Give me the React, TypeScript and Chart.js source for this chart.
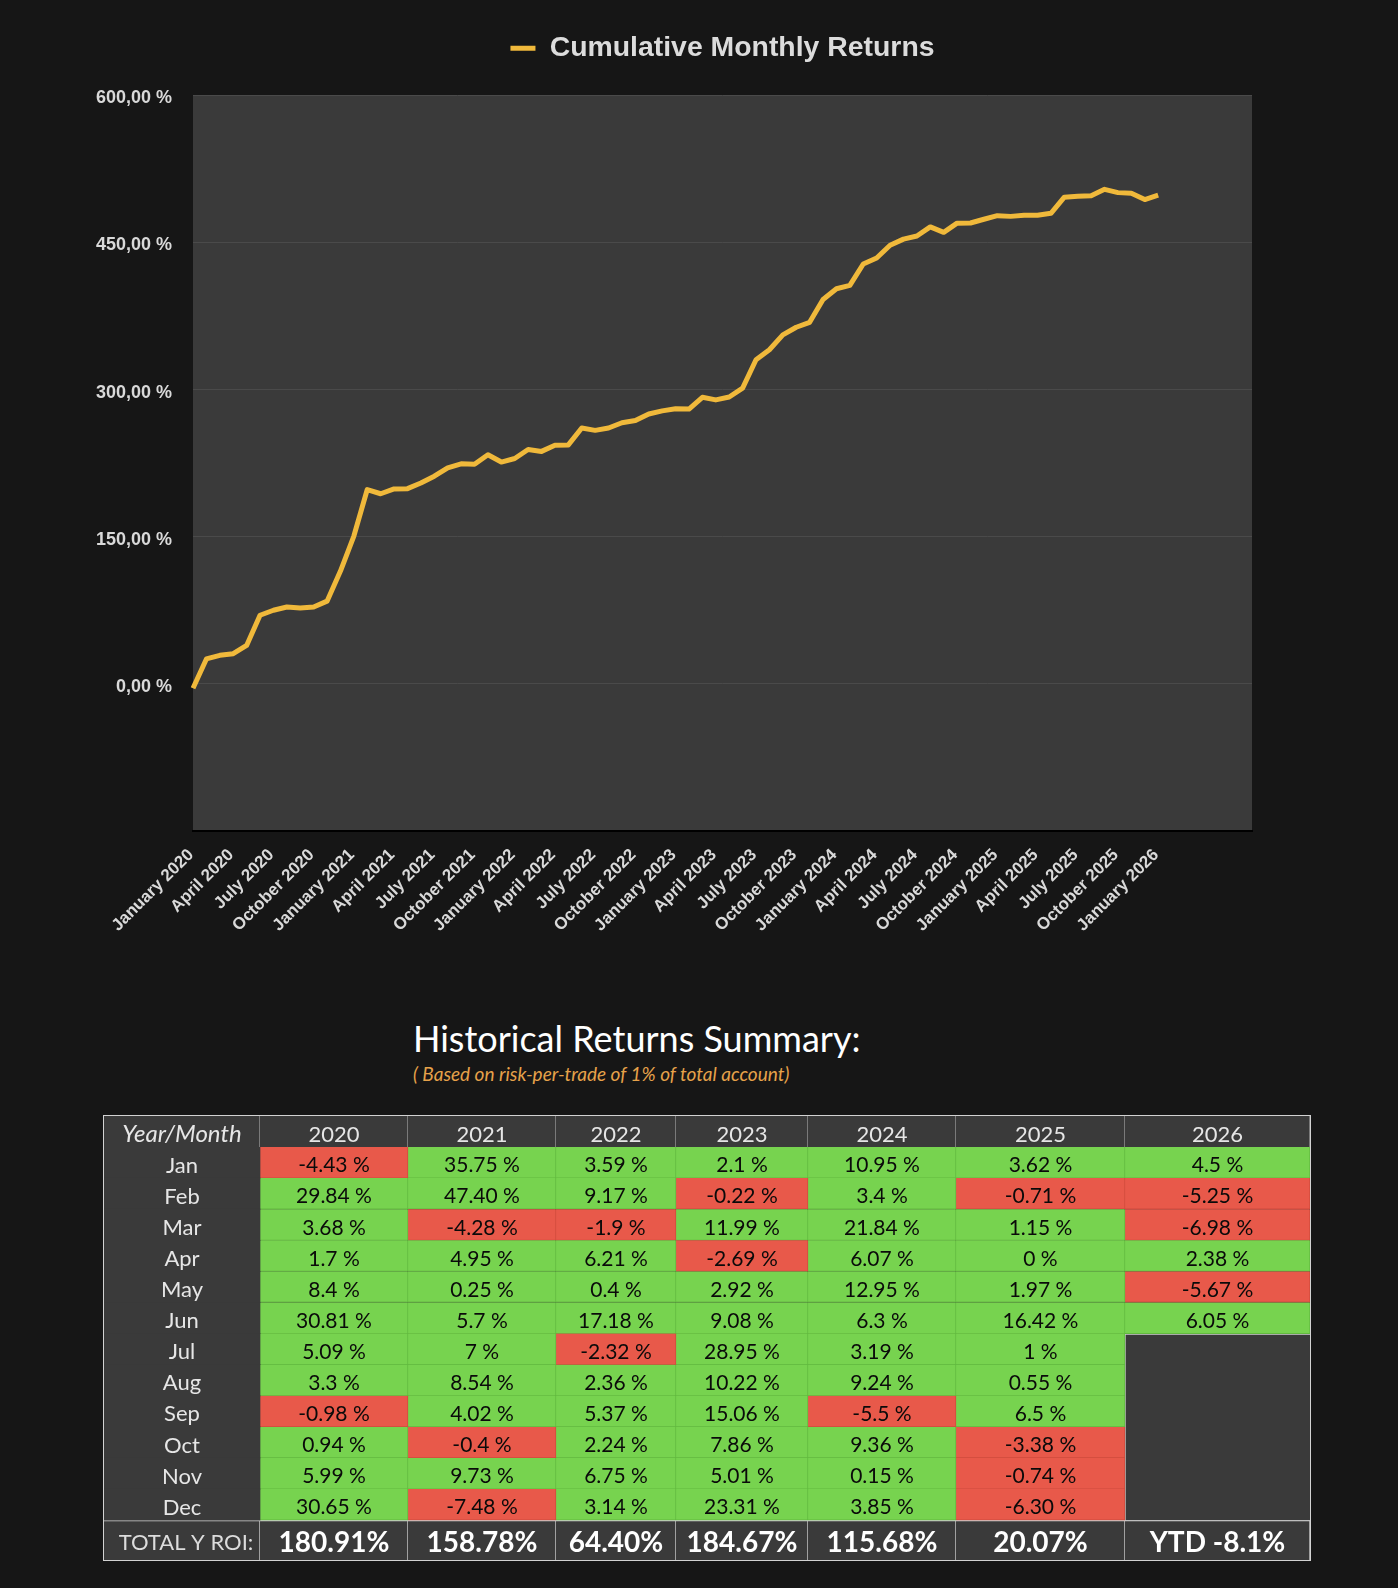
import React, { useEffect, useRef } from 'react';
import { Chart, registerables } from 'chart.js';

Chart.register(...registerables);

// ---------------- data: cumulative line ----------------
const MONTH_NAMES = ['January', 'February', 'March', 'April', 'May', 'June', 'July', 'August', 'September', 'October', 'November', 'December'];
const AXIS_YEARS = [2020, 2021, 2022, 2023, 2024, 2025, 2026];
const AXIS_MONTH_COUNT = 80; // axis runs Jan 2020 .. Aug 2026
const X_LABELS = AXIS_YEARS.flatMap((y) => MONTH_NAMES.map((m) => `${m} ${y}`)).slice(0, AXIS_MONTH_COUNT);

const CUMULATIVE_RETURNS = [
  -4.43, 25.41, 29.09, 30.79, 39.19, 70.0, 75.09, 78.39, 77.41, 78.35, 84.34, 114.99,
  150.74, 198.14, 193.86, 198.81, 199.06, 204.76, 211.76, 220.3, 224.32, 223.92, 233.65, 226.17,
  229.76, 238.93, 237.03, 243.24, 243.64, 260.82, 258.5, 260.86, 266.23, 268.47, 275.22, 278.36,
  280.46, 280.24, 292.23, 289.54, 292.46, 301.54, 330.49, 340.71, 355.77, 363.63, 368.64, 391.95,
  402.9, 406.3, 428.14, 434.21, 447.16, 453.46, 456.65, 465.89, 460.39, 469.75, 469.9, 473.75,
  477.37, 476.66, 477.81, 477.81, 479.78, 496.2, 497.2, 497.75, 504.25, 500.87, 500.13, 493.83,
  498.33,
];

const Y_TICKS = [-150, 0, 150, 300, 450, 600];
const Y_TICK_LABELS = ['', '0,00 %', '150,00 %', '300,00 %', '450,00 %', '600,00 %'];

// ---------------- data: returns table ----------------
const TABLE_YEARS = ['2020', '2021', '2022', '2023', '2024', '2025', '2026'];
const TABLE_MONTHS = ['Jan', 'Feb', 'Mar', 'Apr', 'May', 'Jun', 'Jul', 'Aug', 'Sep', 'Oct', 'Nov', 'Dec'];
const RETURNS_2020 = ['-4.43', '29.84', '3.68', '1.7', '8.4', '30.81', '5.09', '3.3', '-0.98', '0.94', '5.99', '30.65'];
const RETURNS_2021 = ['35.75', '47.40', '-4.28', '4.95', '0.25', '5.7', '7', '8.54', '4.02', '-0.4', '9.73', '-7.48'];
const RETURNS_2022 = ['3.59', '9.17', '-1.9', '6.21', '0.4', '17.18', '-2.32', '2.36', '5.37', '2.24', '6.75', '3.14'];
const RETURNS_2023 = ['2.1', '-0.22', '11.99', '-2.69', '2.92', '9.08', '28.95', '10.22', '15.06', '7.86', '5.01', '23.31'];
const RETURNS_2024 = ['10.95', '3.4', '21.84', '6.07', '12.95', '6.3', '3.19', '9.24', '-5.5', '9.36', '0.15', '3.85'];
const RETURNS_2025 = ['3.62', '-0.71', '1.15', '0', '1.97', '16.42', '1', '0.55', '6.5', '-3.38', '-0.74', '-6.30'];
const RETURNS_2026 = ['4.5', '-5.25', '-6.98', '2.38', '-5.67', '6.05'];
const RETURNS_BY_YEAR = [RETURNS_2020, RETURNS_2021, RETURNS_2022, RETURNS_2023, RETURNS_2024, RETURNS_2025, RETURNS_2026];
const YEAR_TOTALS = ['180.91%', '158.78%', '64.40%', '184.67%', '115.68%', '20.07%', 'YTD -8.1%'];
const HEADER_CORNER = 'Year/Month';
const TOTAL_LABEL = 'TOTAL Y ROI:';

// ---------------- styles / layout ----------------
const PAGE_BG = '#161616';
const PLOT_BG = '#3a3a3a';
const LINE_COLOR = '#f0b93b';
const AXIS_TEXT = '#d9d9d9';
const CHART_FONT = "'Liberation Sans', Arial, Helvetica, sans-serif";
const TABLE_FONT = "Lato, 'Open Sans', sans-serif";
const CELL_DARK = '#3a3a3a';
const GREEN = '#77d34f';
const GREEN_EDGE = '#62b93f';
const RED = '#e8594a';
const RED_EDGE = '#cf4b3d';
const LIGHT_LINE = '#d2d2d2';

const LINE_CANVAS_W = 1398;
const LINE_CANVAS_H = 960;
const PLOT_LEFT = 193;
const PLOT_RIGHT = 1252;
const PLOT_BOTTOM = 831;

const TABLE_LEFT = 104;
const TABLE_TOP = 1116;
const TABLE_W = 1206;
const TABLE_H = 444;
const COL_EDGES = [0, 156, 304, 452, 572, 704, 852, 1021, 1206];
const HEADER_H = 31;
const ROW_H = 31.1;
const TOTAL_TOP = HEADER_H + ROW_H * 12;
const TOTAL_H = TABLE_H - TOTAL_TOP;

const plotBackground = {
  id: 'plotBackground',
  beforeDraw(chart: any) {
    const { ctx, chartArea: a } = chart;
    ctx.save();
    ctx.fillStyle = PLOT_BG;
    ctx.fillRect(a.left, a.top, a.right - a.left, a.bottom - a.top);
    ctx.restore();
  },
};

const cellText = {
  id: 'cellText',
  afterDatasetsDraw(chart: any) {
    const ctx = chart.ctx;
    chart.data.datasets.forEach((ds: any, di: number) => {
      if (!ds.cellText) return;
      const meta = chart.getDatasetMeta(di);
      meta.data.forEach((el: any, i: number) => {
        const t = ds.cellText[i];
        if (!t) return;
        const p = el.getProps(['x', 'y', 'base'], true);
        const dx = ds.cellShiftX ? ds.cellShiftX[i] || 0 : 0;
        ctx.save();
        ctx.font = Array.isArray(ds.cellFont) ? ds.cellFont[i] : ds.cellFont;
        ctx.fillStyle = Array.isArray(ds.cellColor) ? ds.cellColor[i] : ds.cellColor;
        ctx.textAlign = 'center';
        ctx.textBaseline = 'middle';
        ctx.fillText(t, (p.x + p.base) / 2 + dx, p.y + 3);
        ctx.restore();
      });
    });
  },
};

const colSpan = (c: number) => [COL_EDGES[c], COL_EDGES[c + 1]];
const rowCenter = (r: number) => HEADER_H + ROW_H * r + ROW_H / 2;

function buildTableDatasets() {
  const sets: any[] = [];
  const headerLabels = [HEADER_CORNER, ...TABLE_YEARS];
  sets.push({
    data: headerLabels.map((_, c) => ({ x: colSpan(c), y: HEADER_H / 2 })),
    barThickness: HEADER_H,
    backgroundColor: CELL_DARK,
    borderColor: '#9a9a9a',
    borderWidth: { top: 0, left: 0, bottom: 0, right: 1 },
    cellText: headerLabels,
    cellFont: headerLabels.map((_, c) => (c === 0 ? `italic 24px ${TABLE_FONT}` : `22px ${TABLE_FONT}`)),
    cellColor: '#e6e6e6',
  });
  sets.push({
    data: TABLE_MONTHS.map((_, r) => ({ x: colSpan(0), y: rowCenter(r) })),
    barThickness: ROW_H,
    backgroundColor: CELL_DARK,
    borderWidth: 0,
    cellText: TABLE_MONTHS,
    cellFont: `22px ${TABLE_FONT}`,
    cellColor: '#e6e6e6',
  });
  RETURNS_BY_YEAR.forEach((vals, yi) => {
    sets.push({
      data: vals.map((_, r) => ({ x: colSpan(yi + 1), y: rowCenter(r) })),
      barThickness: ROW_H,
      backgroundColor: vals.map((v) => (Number(v) < 0 ? RED : GREEN)),
      borderColor: vals.map((v) => (Number(v) < 0 ? RED_EDGE : GREEN_EDGE)),
      borderWidth: { top: 0, left: 0, bottom: 1, right: 1 },
      cellText: vals.map((v) => `${v} %`),
      cellFont: `21px ${TABLE_FONT}`,
      cellColor: '#0a0a0a',
    });
  });
  // empty area under the last (partial) year
  const lastCol = TABLE_YEARS.length;
  const filled = RETURNS_2026.length;
  const emptyTop = HEADER_H + ROW_H * filled;
  sets.push({
    data: [{ x: colSpan(lastCol), y: (emptyTop + TOTAL_TOP) / 2 }],
    barThickness: TOTAL_TOP - emptyTop,
    backgroundColor: CELL_DARK,
    borderColor: LIGHT_LINE,
    borderWidth: { top: 1.5, left: 1, bottom: 0, right: 0 },
  });
  const totalLabels = [TOTAL_LABEL, ...YEAR_TOTALS];
  sets.push({
    data: totalLabels.map((_, c) => ({ x: colSpan(c), y: TOTAL_TOP + TOTAL_H / 2 })),
    barThickness: TOTAL_H,
    backgroundColor: CELL_DARK,
    borderColor: LIGHT_LINE,
    borderWidth: { top: 1.5, left: 0, bottom: 0, right: 1 },
    cellText: totalLabels,
    cellShiftX: totalLabels.map((_, c) => (c === 0 ? 4 : 0)),
    cellFont: totalLabels.map((_, c) => (c === 0 ? `22px ${TABLE_FONT}` : `bold 28px ${TABLE_FONT}`)),
    cellColor: totalLabels.map((_, c) => (c === 0 ? '#dcdcdc' : '#ffffff')),
  });
  return sets;
}

export default function App() {
  const lineRef = useRef<HTMLCanvasElement>(null);
  const tableRef = useRef<HTMLCanvasElement>(null);

  useEffect(() => {
    document.body.style.margin = '0';
    document.body.style.background = PAGE_BG;

    const lineChart = new Chart(lineRef.current as HTMLCanvasElement, {
      type: 'line',
      data: {
        labels: X_LABELS,
        datasets: [
          {
            label: 'Cumulative Monthly Returns',
            data: CUMULATIVE_RETURNS,
            borderColor: LINE_COLOR,
            backgroundColor: LINE_COLOR,
            borderWidth: 5,
            pointRadius: 0,
            pointHoverRadius: 0,
            tension: 0,
            borderJoinStyle: 'round',
            borderCapStyle: 'butt',
            fill: false,
          },
        ],
      },
      options: {
        responsive: false,
        animation: false,
        devicePixelRatio: 1,
        events: [],
        layout: { padding: { top: 25, right: LINE_CANVAS_W - PLOT_RIGHT, left: 0, bottom: 0 } },
        plugins: {
          legend: {
            position: 'top',
            fullSize: false,
            labels: {
              color: '#dcdcdc',
              font: { family: CHART_FONT, size: 28.4, weight: 'bold' },
              usePointStyle: true,
              pointStyle: 'line',
              pointStyleWidth: 25,
              padding: 9,
            },
          },
          title: {
            display: true,
            text: '',
            position: 'top',
            fullSize: false,
            weight: 0,
            padding: 0,
            font: { size: 23, lineHeight: 1 },
          },
          tooltip: { enabled: false },
        },
        scales: {
          x: {
            grid: { display: false, drawTicks: false },
            border: { display: true, color: '#000000', width: 2 },
            ticks: {
              autoSkip: false,
              maxRotation: 45,
              minRotation: 45,
              padding: 14,
              labelOffset: -2,
              color: AXIS_TEXT,
              font: { family: CHART_FONT, size: 17, weight: 'bold' },
              callback: (_v: any, i: number) => (i % 3 === 0 && i < CUMULATIVE_RETURNS.length ? X_LABELS[i] : ''),
            },
            afterFit: (s: any) => {
              s.height = LINE_CANVAS_H - PLOT_BOTTOM;
            },
          },
          y: {
            min: -150,
            max: 600,
            afterBuildTicks: (s: any) => {
              s.ticks = Y_TICKS.map((value) => ({ value }));
            },
            grid: { color: '#4a4a4a', lineWidth: 1, drawTicks: false },
            border: { display: false },
            ticks: {
              padding: 21,
              labelOffset: 3,
              color: AXIS_TEXT,
              font: { family: CHART_FONT, size: 18, weight: 'bold' },
              callback: (v: any) => {
                const k = Y_TICKS.indexOf(Number(v));
                return k >= 0 ? Y_TICK_LABELS[k] : '';
              },
            },
            afterFit: (s: any) => {
              s.width = PLOT_LEFT;
            },
          },
        },
      } as any,
      plugins: [plotBackground],
    });

    const tableChart = new Chart(tableRef.current as HTMLCanvasElement, {
      type: 'bar',
      data: { datasets: buildTableDatasets() },
      options: {
        indexAxis: 'y',
        responsive: false,
        animation: false,
        devicePixelRatio: 1,
        events: [],
        layout: { padding: 0 },
        datasets: { bar: { grouped: false, borderSkipped: false } },
        plugins: { legend: { display: false }, tooltip: { enabled: false }, title: { display: false } },
        scales: {
          x: { type: 'linear', min: 0, max: TABLE_W, offset: false, grace: 0, display: false },
          y: { type: 'linear', min: 0, max: TABLE_H, offset: false, grace: 0, reverse: true, display: false },
        },
      } as any,
      plugins: [cellText],
    });

    let alive = true;
    if ((document as any).fonts && (document as any).fonts.ready) {
      (document as any).fonts.ready.then(() => {
        if (alive) {
          lineChart.update();
          tableChart.update();
        }
      });
    }
    return () => {
      alive = false;
      lineChart.destroy();
      tableChart.destroy();
    };
  }, []);

  return (
    <div
      style={{
        position: 'absolute',
        left: 0,
        top: 0,
        width: 1398,
        height: 1588,
        background: PAGE_BG,
        overflow: 'hidden',
      }}
    >
      <canvas
        ref={lineRef}
        width={LINE_CANVAS_W}
        height={LINE_CANVAS_H}
        style={{ position: 'absolute', left: 0, top: 0, display: 'block' }}
      />
      <div
        style={{
          position: 'absolute',
          left: 413,
          top: 1020,
          fontFamily: TABLE_FONT,
          fontSize: 36,
          lineHeight: 1,
          color: '#ffffff',
          whiteSpace: 'nowrap',
        }}
      >
        Historical Returns Summary:
      </div>
      <div
        style={{
          position: 'absolute',
          left: 413,
          top: 1064,
          fontFamily: TABLE_FONT,
          fontSize: 19,
          fontStyle: 'italic',
          lineHeight: 1,
          color: '#e6a24a',
          whiteSpace: 'nowrap',
        }}
      >
        ( Based on risk-per-trade of 1% of total account)
      </div>
      <div
        style={{
          position: 'absolute',
          left: TABLE_LEFT - 1,
          top: TABLE_TOP - 1,
          border: `1px solid ${LIGHT_LINE}`,
          width: TABLE_W,
          height: TABLE_H,
        }}
      >
        <canvas
          ref={tableRef}
          width={TABLE_W}
          height={TABLE_H}
          style={{ display: 'block', background: CELL_DARK }}
        />
      </div>
    </div>
  );
}
